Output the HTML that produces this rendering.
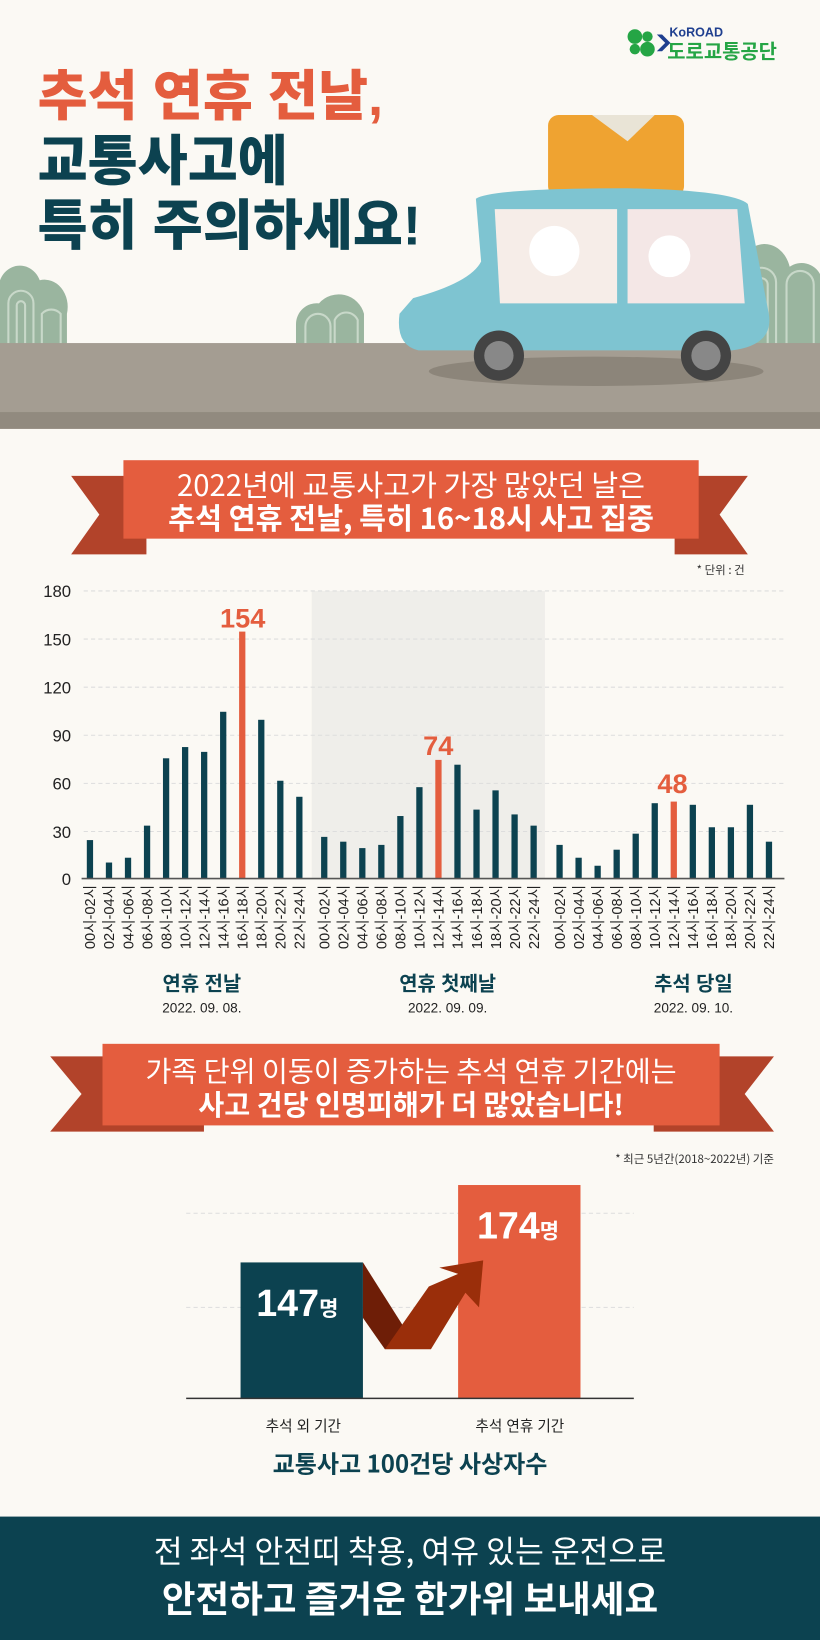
<!DOCTYPE html>
<html><head><meta charset="utf-8">
<style>
html,body{margin:0;padding:0;background:#fbf9f4;}
svg{display:block;}
text{font-family:"Liberation Sans","Noto Sans CJK KR",sans-serif;}
.k{font-family:"Noto Sans CJK KR","Liberation Sans",sans-serif;}
</style></head>
<body>
<svg width="820" height="1640" viewBox="0 0 784 1568" xmlns="http://www.w3.org/2000/svg">
<rect width="784" height="1568" fill="#fbf9f4"/>
<!-- header hills -->
<g fill="#9ab59f">
<path d="M0 330 V285 A20 22 0 0 1 38 268 A22 26 0 0 1 64 300 V330 Z"/>
<path d="M283 330 V310 A20 20 0 0 1 305 290 A25 25 0 0 1 348 300 V330 Z"/>
<path d="M706 330 V262 A25 30 0 0 1 755 255 A20 20 0 0 1 784 262 V330 Z"/>
</g>
<g fill="none" stroke="#c8d8c9" stroke-width="2">
<path d="M8 330 V290 A12 12 0 0 1 32 290 V330"/><path d="M16 330 V292 A4 4 0 0 1 24 292 V330"/><path d="M40 330 V300 A12 12 0 0 1 58 300 V330"/>
<path d="M292 330 V312 A12 12 0 0 1 316 312 V330"/><path d="M320 330 V306 A12 12 0 0 1 342 306 V330"/>
<path d="M714 330 V270 A14 14 0 0 1 742 270 V330"/><path d="M722 330 V272 A6 6 0 0 1 734 272 V330"/><path d="M752 330 V272 A12 12 0 0 1 778 272 V330"/>
</g>
<rect x="0" y="328" width="784" height="82" fill="#a49d92"/>
<rect x="0" y="394" width="784" height="16" fill="#918a7f"/>
<!-- car -->
<ellipse cx="570" cy="355" rx="160" ry="14" fill="#8c857a"/>
<rect x="524" y="110" width="130" height="78" rx="10" fill="#efa331"/>
<path d="M566 110 L600 135 L626 110 Z" fill="#e9e4d6"/>
<path d="M455 190 Q470 180 600 180 Q700 182 715 195 L735 300 Q740 330 700 335 H400 Q378 330 382 300 L395 285 Q450 270 460 250 Z" fill="#7ec4d1"/>
<path d="M473 200 H590 V290 H478 Z" fill="#f6ede8"/>
<path d="M600 200 H705 L712 290 H600 Z" fill="#f4e7e6"/>
<circle cx="530" cy="240" r="24" fill="#fff"/><circle cx="640" cy="245" r="20" fill="#fff"/>
<circle cx="477" cy="340" r="24" fill="#444"/><circle cx="477" cy="340" r="14" fill="#888"/>
<circle cx="675" cy="340" r="24" fill="#444"/><circle cx="675" cy="340" r="14" fill="#888"/>
<!-- logo -->
<g fill="#25a545"><circle cx="607" cy="35" r="7"/><circle cx="619" cy="47" r="7"/><circle cx="607" cy="47" r="5"/><circle cx="619" cy="35" r="5"/></g>
<path d="M628 33 L636 41 L628 49 L633 49 L641 41 L633 33Z" fill="#1f3f8f"/>
<text x="640" y="35" font-size="12" font-weight="700" fill="#1f3f8f">KoROAD</text>
<text x="638" y="56" class="k" font-size="19" font-weight="700" fill="#25a545">도로교통공단</text>
<!-- title -->
<g class="k" font-weight="900" font-size="52">
<text x="36" y="110" fill="#e45d3e">추석 연휴 전날,</text>
<text x="36" y="172" fill="#0c4250">교통사고에</text>
<text x="36" y="234" fill="#0c4250">특히 주의하세요!</text>
</g>
<!-- banner 1 -->
<path d="M68 455 H140 V530 H68 L95 492 Z" fill="#b2432a"/>
<path d="M715 455 H645 V530 H715 L688 492 Z" fill="#b2432a"/>
<rect x="118" y="440" width="550" height="75" fill="#e45d3e"/>
<text x="393" y="474" text-anchor="middle" class="k" font-size="28" fill="#fff">2022년에 교통사고가 가장 많았던 날은</text>
<text x="393" y="506" text-anchor="middle" class="k" font-size="28" font-weight="700" fill="#fff">추석 연휴 전날, 특히 16~18시 사고 집중</text>
<text x="712" y="549" text-anchor="end" class="k" font-size="11" fill="#333">* 단위 : 건</text>
<!-- chart -->
<rect x="298" y="565" width="223" height="275" fill="#efeeea"/>
<g stroke="#ddd" stroke-dasharray="4 3" stroke-width="1">
<line x1="80" y1="565" x2="750" y2="565"/><line x1="80" y1="611" x2="750" y2="611"/><line x1="80" y1="657" x2="750" y2="657"/><line x1="80" y1="703" x2="750" y2="703"/><line x1="80" y1="749" x2="750" y2="749"/><line x1="80" y1="795" x2="750" y2="795"/>
</g>
<g font-size="16" fill="#222" text-anchor="end">
<text x="68" y="571">180</text><text x="68" y="617">150</text><text x="68" y="663">120</text><text x="68" y="709">90</text><text x="68" y="755">60</text><text x="68" y="801">30</text><text x="68" y="846">0</text>
</g>
<g id="bars"></g>
<line x1="78" y1="840" x2="750" y2="840" stroke="#555" stroke-width="1.5"/>
<g id="xl" font-size="14" fill="#222" class="k"></g>
<g font-weight="700" fill="#e45d3e" text-anchor="middle">
<text x="232" y="600" font-size="26">154</text><text x="419" y="722" font-size="26">74</text><text x="643" y="758" font-size="26">48</text>
</g>
<g text-anchor="middle" class="k">
<text x="193" y="947" font-size="19" font-weight="700" fill="#0c4250">연휴 전날</text>
<text x="193" y="968" font-size="13" fill="#222">2022. 09. 08.</text>
<text x="428" y="947" font-size="19" font-weight="700" fill="#0c4250">연휴 첫째날</text>
<text x="428" y="968" font-size="13" fill="#222">2022. 09. 09.</text>
<text x="663" y="947" font-size="19" font-weight="700" fill="#0c4250">추석 당일</text>
<text x="663" y="968" font-size="13" fill="#222">2022. 09. 10.</text>
</g>
<!-- banner 2 -->
<path d="M48 1082 H195 V1010 H96 L48 1010 L78 1046 Z" fill="#b2432a"/>
<path d="M740 1082 H625 V1010 H740 L712 1046 Z" fill="#b2432a"/>
<rect x="98" y="998" width="590" height="78" fill="#e45d3e"/>
<text x="393" y="1034" text-anchor="middle" class="k" font-size="27" fill="#fff">가족 단위 이동이 증가하는 추석 연휴 기간에는</text>
<text x="393" y="1066" text-anchor="middle" class="k" font-size="27" font-weight="700" fill="#fff">사고 건당 인명피해가 더 많았습니다!</text>
<text x="740" y="1112" text-anchor="end" class="k" font-size="11" fill="#333">* 최근 5년간(2018~2022년) 기준</text>
<!-- chart 2 -->
<g stroke="#ddd" stroke-dasharray="4 3"><line x1="178" y1="1160" x2="606" y2="1160"/><line x1="178" y1="1250" x2="606" y2="1250"/></g>
<rect x="230" y="1207" width="117" height="130" fill="#0c4250"/>
<rect x="438" y="1133" width="117" height="204" fill="#e45d3e"/>
<path d="M347 1207 L390 1275 L368 1290 L347 1260 Z" fill="#6e1e07"/>
<path d="M368 1290 L410 1230 L438 1218 L420 1212 L462 1205 L458 1250 L445 1236 L412 1290 Z" fill="#9a2e0a"/>
<line x1="178" y1="1337" x2="606" y2="1337" stroke="#333" stroke-width="1.5"/>
<text x="245" y="1258" font-size="36" font-weight="700" fill="#fff">147<tspan class="k" font-size="20">명</tspan></text>
<text x="456" y="1184" font-size="36" font-weight="700" fill="#fff">174<tspan class="k" font-size="20">명</tspan></text>
<g class="k" text-anchor="middle" font-size="14" fill="#222"><text x="290" y="1368">추석 외 기간</text><text x="497" y="1368">추석 연휴 기간</text></g>
<text x="392" y="1408" text-anchor="middle" class="k" font-size="23" font-weight="700" fill="#0c4250">교통사고 100건당 사상자수</text>
<!-- footer -->
<rect x="0" y="1450" width="784" height="118" fill="#0c4250"/>
<text x="392" y="1494" text-anchor="middle" class="k" font-size="30" fill="#fff">전 좌석 안전띠 착용, 여유 있는 운전으로</text>
<text x="392" y="1541" text-anchor="middle" class="k" font-size="35" font-weight="700" fill="#fff">안전하고 즐거운 한가위 보내세요</text>
</svg>
<script>
(function(){
var d=[[24,10,13,33,75,82,79,104,154,99,61,51],[26,23,19,21,39,57,74,71,43,55,40,33],[21,13,8,18,28,47,48,46,32,32,46,23]];
var hi=[8,6,6],st=[86,310,535],labs=["00시-02시","02시-04시","04시-06시","06시-08시","08시-10시","10시-12시","12시-14시","14시-16시","16시-18시","18시-20시","20시-22시","22시-24시"];
var ns="http://www.w3.org/2000/svg",g=document.getElementById("bars"),xl=document.getElementById("xl");
for(var i=0;i<3;i++)for(var j=0;j<12;j++){
var x=st[i]+j*18.2,h=d[i][j]*46/30;
var r=document.createElementNS(ns,"rect");r.setAttribute("x",x-3);r.setAttribute("y",840-h);r.setAttribute("width",6);r.setAttribute("height",h);r.setAttribute("fill",j==hi[i]?"#e45d3e":"#0c4250");g.appendChild(r);
var t=document.createElementNS(ns,"text");t.setAttribute("transform","translate("+(x+5)+",846) rotate(-90)");t.setAttribute("text-anchor","end");t.textContent=labs[j];xl.appendChild(t);}
})();
</script>
</body></html>
